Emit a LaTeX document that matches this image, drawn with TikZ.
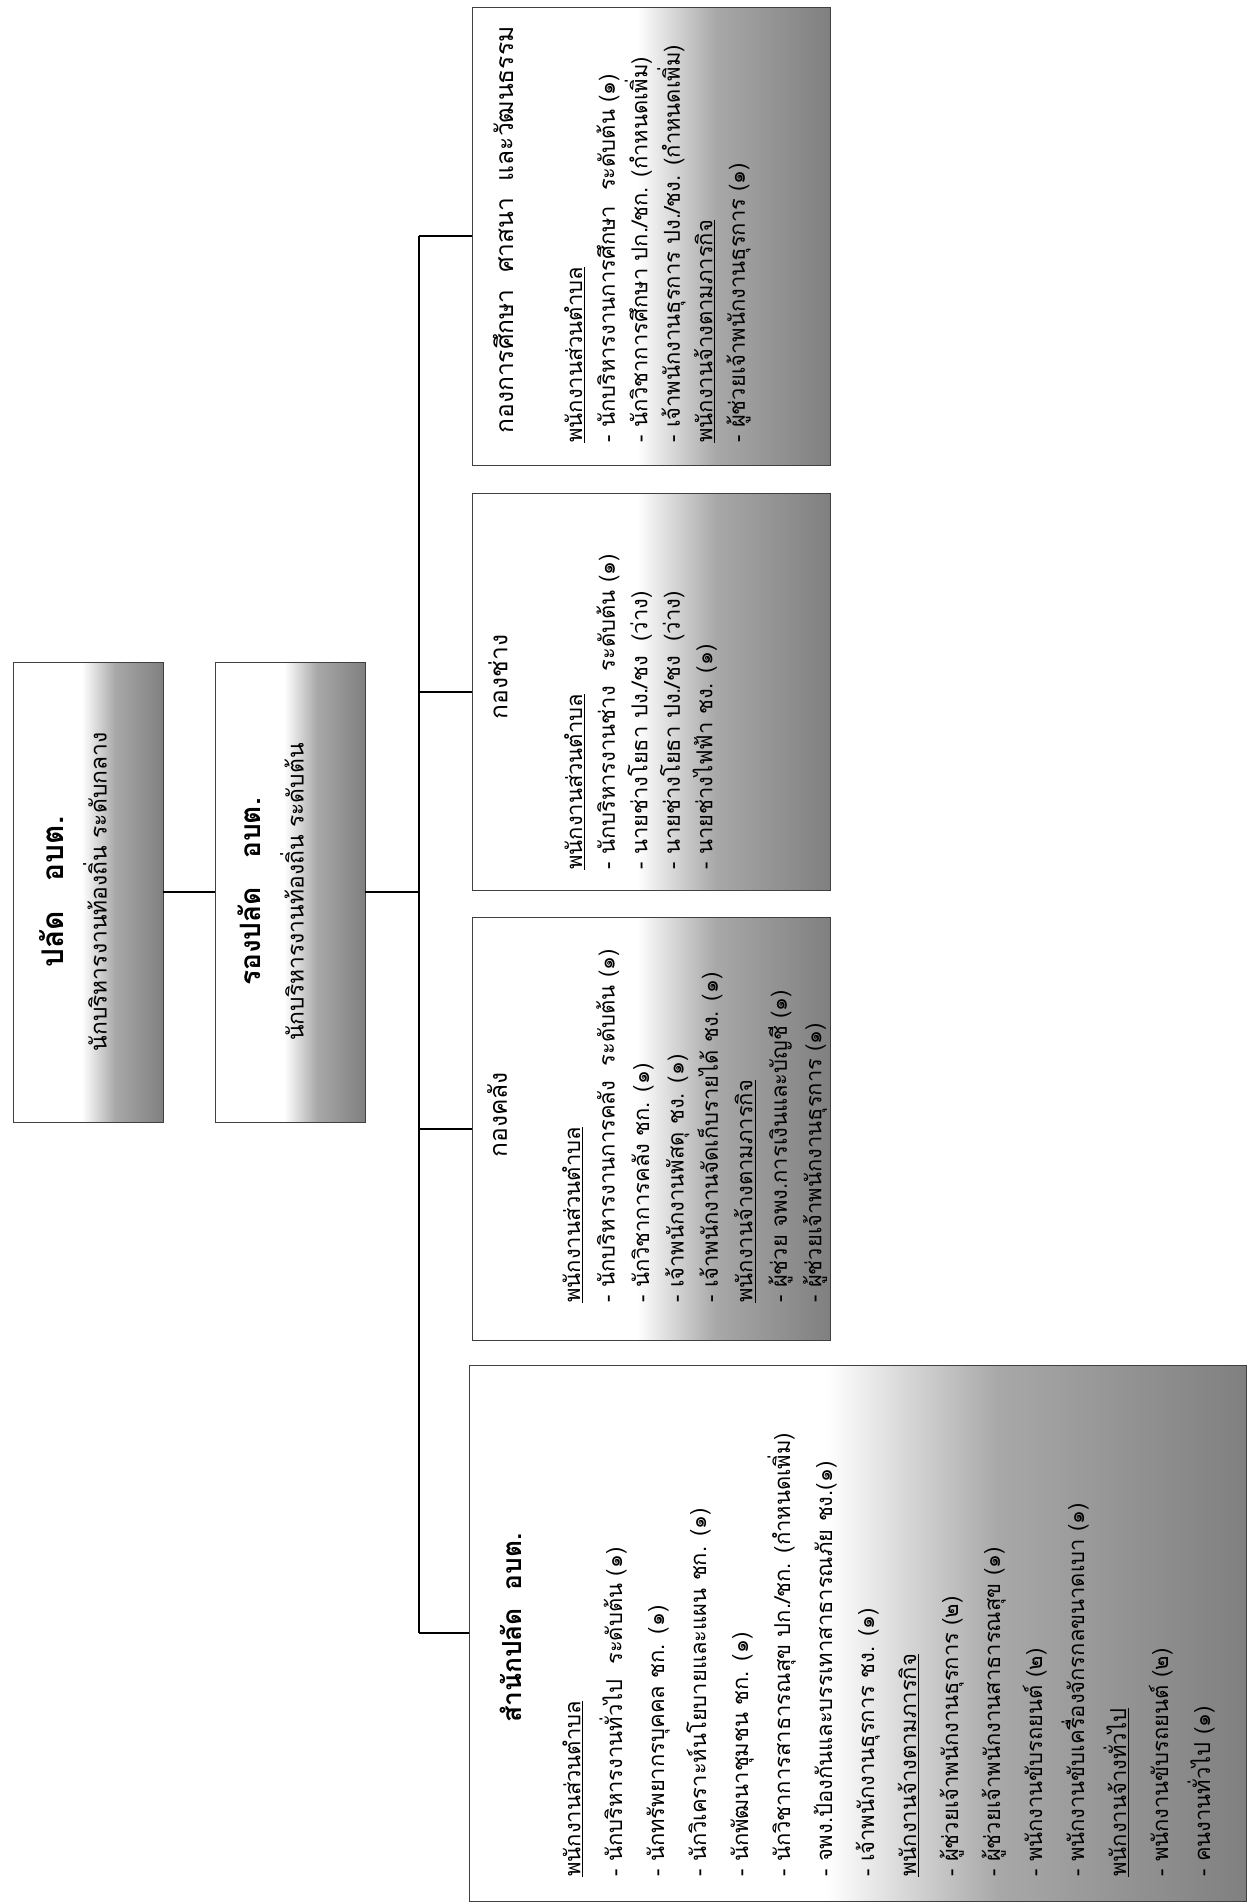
\documentclass[tikz,border=0pt]{standalone}
\usepackage{fontspec}
\newfontfamily\thai[Script=Thai]{Loma}
\usetikzlibrary{positioning}
% grey comes in from the right side of the page (the foot of each box)
\pgfdeclarehorizontalshading{boxshade}{100bp}{color(0bp)=(white); color(48bp)=(white); color(59bp)=(black!34); color(75bp)=(black!50); color(100bp)=(black!50)}

\begin{document}
\begin{tikzpicture}[x=0.02cm, y=0.02cm,
  unitbox/.style={draw=black!75, thin, shading=boxshade, inner sep=0pt},
  ttl/.style={font=\thai\bfseries\fontsize{16}{19}\selectfont},
  divttl/.style={font=\thai\fontsize{14}{17}\selectfont},
  subttl/.style={font=\thai\fontsize{13}{16}\selectfont},
  lst/.style={font=\thai\fontsize{12.5}{#1}\selectfont, align=left, anchor=north west, inner sep=0pt},
  link/.style={line width=0.9pt}]
\useasboundingbox (0,0) rectangle (1249,1903);
\begin{scope}[rotate=90, transform shape]
% head of the office
\node[unitbox, minimum width=9.2cm, minimum height=3cm] (pal) at (1011,-88) {};
\node[ttl, font=\thai\bfseries\fontsize{17}{20}\selectfont] (palt) at (1011,-52) {ปลัด\quad อบต.};
\node[subttl] (pals) at (1011,-95) {นักบริหารงานท้องถิ่น ระดับกลาง};
\node[unitbox, minimum width=9.2cm, minimum height=3cm] (rong) at (1011,-290) {};
\node[ttl] (rongt) at (1011,-249) {รองปลัด\quad อบต.};
\node[subttl] (rongs) at (1011,-292) {นักบริหารงานท้องถิ่น ระดับต้น};

% divisions
\node[unitbox, minimum width=10.72cm, minimum height=15.54cm] (sam) at (270,-858) {};
\node[unitbox, minimum width=8.46cm, minimum height=7.16cm] (klang) at (774,-651) {};
\node[unitbox, minimum width=7.94cm, minimum height=7.16cm] (chang) at (1211,-651) {};
\node[unitbox, minimum width=9.16cm, minimum height=7.16cm] (edu) at (1667,-651) {};

\node[ttl, font=\thai\bfseries\fontsize{15}{18}\selectfont] (samt) at (275,-511) {สำนักปลัด\ \ อบต.};
\node[divttl] (klangt) at (788,-497) {กองคลัง};
\node[divttl] (changt) at (1226,-498) {กองช่าง};
\node[divttl] (edut) at (1673,-503) {กองการศึกษา\ \ ศาสนา\ \ และวัฒนธรรม};

\node[lst=23.9] (samlist) at (26,-562) {\underline{พนักงานส่วนตำบล}\\
- นักบริหารงานทั่วไป\ \ ระดับต้น (๑)\\
- นักทรัพยากรบุคคล ชก. (๑)\\
- นักวิเคราะห์นโยบายและแผน ชก. (๑)\\
- นักพัฒนาชุมชน ชก. (๑)\\
- นักวิชาการสาธารณสุข ปก./ชก. (กำหนดเพิ่ม)\\
- จพง.ป้องกันและบรรเทาสาธารณภัย ชง.(๑)\\
- เจ้าพนักงานธุรการ ชง. (๑)\\
\underline{พนักงานจ้างตามภารกิจ}\\
- ผู้ช่วยเจ้าพนักงานธุรการ (๒)\\
- ผู้ช่วยเจ้าพนักงานสาธารณสุข (๑)\\
- พนักงานขับรถยนต์ (๒)\\
- พนักงานขับเครื่องจักรกลขนาดเบา (๑)\\
\underline{พนักงานจ้างทั่วไป}\\
- พนักงานขับรถยนต์ (๒)\\
- คนงานทั่วไป (๑)};

\node[lst=19.6] (klanglist) at (600,-562) {\underline{พนักงานส่วนตำบล}\\
- นักบริหารงานการคลัง\ \ ระดับต้น (๑)\\
- นักวิชาการคลัง ชก. (๑)\\
- เจ้าพนักงานพัสดุ ชง. (๑)\\
- เจ้าพนักงานจัดเก็บรายได้ ชง. (๑)\\
\underline{พนักงานจ้างตามภารกิจ}\\
- ผู้ช่วย จพง.การเงินและบัญชี (๑)\\
- ผู้ช่วยเจ้าพนักงานธุรการ (๑)};

\node[lst=18.5] (changlist) at (1033,-564) {\underline{พนักงานส่วนตำบล}\\
- นักบริหารงานช่าง\ \ ระดับต้น (๑)\\
- นายช่างโยธา ปง./ชง\ \ (ว่าง)\\
- นายช่างโยธา ปง./ชง\ \ (ว่าง)\\
- นายช่างไฟฟ้า ชง. (๑)};

\node[lst=18.5] (edulist) at (1460,-564) {\underline{พนักงานส่วนตำบล}\\
- นักบริหารงานการศึกษา\ \ ระดับต้น (๑)\\
- นักวิชาการศึกษา ปก./ชก. (กำหนดเพิ่ม)\\
- เจ้าพนักงานธุรการ ปง./ชง. (กำหนดเพิ่ม)\\
\underline{พนักงานจ้างตามภารกิจ}\\
- ผู้ช่วยเจ้าพนักงานธุรการ (๑)};

% connectors
\coordinate (hub) at (1011,-419);
\coordinate (jsam) at (270,-419);
\coordinate (jklang) at (774,-419);
\coordinate (jchang) at (1211,-419);
\coordinate (jedu) at (1667,-419);
\draw[link] (pal) -- (rong);
\draw[link] (rong) -- (hub);
\draw[link] (jsam) -- (jedu);
\draw[link] (jsam) -- (sam);
\draw[link] (jklang) -- (klang);
\draw[link] (jchang) -- (chang);
\draw[link] (jedu) -- (edu);
\end{scope}
\end{tikzpicture}
\end{document}
